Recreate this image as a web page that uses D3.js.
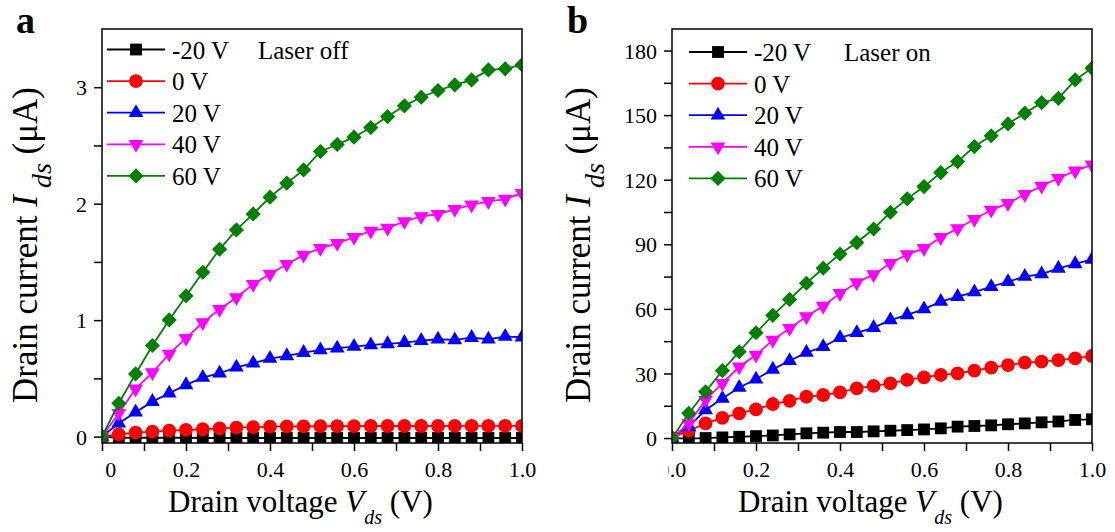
<!DOCTYPE html>
<html><head><meta charset="utf-8">
<script src="https://cdn.jsdelivr.net/npm/d3@7"></script>
<style>
body{margin:0;background:#fff}
svg{display:block}
text{font-family:"Liberation Serif","Times New Roman",serif;fill:#000}
</style>
</head><body>
<svg id="chart" width="1115" height="532"></svg>
<script>
// Drain voltage values (V)
const vds = [0,0.04,0.08,0.12,0.16,0.2,0.24,0.28,0.32,0.36,0.4,0.44,0.48,0.52,0.56,0.6,0.64,0.68,0.72,0.76,0.8,0.84,0.88,0.92,0.96,1.0];
const gateLabels = ["-20 V","0 V","20 V","40 V","60 V"];
const seriesColors = ["#000000","#ff0000","#0000ff","#ff00ff","#008000"];

// Panel a: laser off, drain current (uA)
const offM20 = [0,-0.01,-0.01,-0.01,-0.01,-0.01,-0.012,-0.012,-0.012,-0.012,-0.012,-0.012,-0.012,-0.012,-0.012,-0.012,-0.012,-0.012,-0.012,-0.012,-0.012,-0.012,-0.012,-0.012,-0.012,-0.012];
const off0   = [0,0.02,0.034,0.043,0.052,0.057,0.063,0.07,0.077,0.082,0.085,0.087,0.088,0.089,0.09,0.09,0.091,0.091,0.091,0.091,0.091,0.092,0.092,0.092,0.092,0.092];
const off20  = [0,0.115,0.21,0.30,0.372,0.444,0.507,0.544,0.595,0.63,0.67,0.693,0.721,0.744,0.759,0.773,0.787,0.796,0.807,0.824,0.836,0.83,0.85,0.836,0.859,0.853];
const off40  = [0,0.2,0.41,0.55,0.71,0.845,0.98,1.094,1.194,1.308,1.397,1.48,1.56,1.617,1.66,1.712,1.766,1.79,1.847,1.89,1.91,1.952,1.99,2.02,2.04,2.09];
const off60  = [0,0.286,0.538,0.782,1.002,1.208,1.411,1.609,1.775,1.912,2.056,2.176,2.29,2.448,2.508,2.571,2.654,2.748,2.84,2.914,2.972,3.02,3.063,3.149,3.158,3.192];

// Panel b: laser on, drain current (uA)
const onM20 = [0,-0.3,0,0.3,0.6,0.9,1.2,1.7,2.2,2.5,2.8,2.8,3.1,3.4,3.7,4,4.5,5.3,5.6,5.9,6.4,6.8,7.3,7.7,8.4,8.7];
const on0   = [0,3.4,6.8,9.4,11.5,13.3,15.8,17.3,19.2,20,21.2,23.1,24.2,25.4,27,28.2,29.3,30,31.3,32.7,33.9,35,35.5,36.2,37,38.1];
const on20  = [0,5.3,13,18.4,23.5,27.3,31.9,35.9,39.7,42.4,46.6,48.9,51.3,54.8,57.2,59.9,63.4,65.7,67.8,70.3,72.6,75,76.2,78.8,80.9,83];
const on40  = [0,6.8,17.7,25.4,33.1,38.6,45.5,51,56.4,61.3,67.2,72.2,76,81.2,85.3,88.1,93.2,97.3,101.6,105.9,109,113.2,117.1,120.7,124.1,126.9];
const on60  = [0,11.5,21.5,31.3,40.1,48.9,57,64.4,71.9,78.9,85.5,90.8,97.1,104.9,111.1,116.8,123.3,128.4,135.4,140.4,145.9,150.9,155.8,157.8,166.4,171.8];

// Tick values
const xMajorTicks = [0,0.2,0.4,0.6,0.8,1.0];
const xTickLabels = ["0.0","0.2","0.4","0.6","0.8","1.0"];
const xMinorTicks = [0.1,0.3,0.5,0.7,0.9];
const yMajorA = [0,1,2,3];
const yMinorA = [0.5,1.5,2.5];
const yMajorB = [0,30,60,90,120,150,180];
const yMinorB = [15,45,75,105,135,165];

const svg = d3.select("#chart");
const defs = svg.append("defs");
const symbols = [
  {type:d3.symbolSquare, size:140, rot:0},
  {type:d3.symbolCircle, size:150, rot:0},
  {type:d3.symbolTriangle, size:95, rot:0},
  {type:d3.symbolTriangle, size:95, rot:180},
  {type:d3.symbolSquare, size:115, rot:45}
];

function drawPanel(cfg){
  const g = svg.append("g");
  const x = d3.scaleLinear().domain([0,1]).range([cfg.left, cfg.right]);
  const y = d3.scaleLinear().domain(cfg.yDomain).range([cfg.bottom, cfg.top]);
  const clipId = "clip"+cfg.id;
  defs.append("clipPath").attr("id",clipId)
    .append("rect").attr("x",cfg.left).attr("y",cfg.top)
    .attr("width",cfg.right-cfg.left).attr("height",cfg.bottom-cfg.top);
  // first x label is partly hidden in the original figure
  const lblClip = "lclip"+cfg.id;
  defs.append("clipPath").attr("id",lblClip)
    .append("rect").attr("x",cfg.xLabelClip - cfg.left).attr("y",0)
    .attr("width",60).attr("height",60);

  // axes
  const xAx = g.append("g").attr("transform",`translate(0,${cfg.bottom})`)
    .call(d3.axisBottom(x).tickValues(xMajorTicks).tickSize(8).tickFormat((d,i)=>xTickLabels[i]));
  g.append("g").attr("transform",`translate(0,${cfg.bottom})`)
    .call(d3.axisBottom(x).tickValues(xMinorTicks).tickSize(8).tickFormat(""));
  const yAx = g.append("g").attr("transform",`translate(${cfg.left},0)`)
    .call(d3.axisLeft(y).tickValues(cfg.yMajor).tickSize(8).tickPadding(7).tickFormat(d3.format("d")));
  g.append("g").attr("transform",`translate(${cfg.left},0)`)
    .call(d3.axisLeft(y).tickValues(cfg.yMinor).tickSize(8).tickFormat(""));
  g.selectAll(".domain").remove();
  g.selectAll(".tick line").attr("stroke","#000").attr("stroke-width",1.5);
  xAx.selectAll("text").attr("font-size",22).attr("y",34).attr("dy",0)
    .attr("font-family","Liberation Serif, Times New Roman, serif");
  xAx.selectAll("text").filter((d,i)=>i===0).attr("clip-path",`url(#${lblClip})`);
  yAx.selectAll("text").attr("font-size",22).attr("dy","0.35em")
    .attr("font-family","Liberation Serif, Times New Roman, serif");

  // data
  const plot = g.append("g").attr("clip-path",`url(#${clipId})`);
  const line = d3.line().x((d,i)=>x(vds[i])).y(d=>y(d));
  cfg.series.forEach((vals,k)=>{
    plot.append("path").datum(vals).attr("d",line).attr("fill","none")
      .attr("stroke",seriesColors[k]).attr("stroke-width",1.8);
    const sym = d3.symbol().type(symbols[k].type).size(symbols[k].size);
    plot.selectAll(null).data(vals).enter().append("path")
      .attr("d",sym)
      .attr("transform",(d,i)=>`translate(${x(vds[i])},${y(d)}) rotate(${symbols[k].rot})`)
      .attr("fill",seriesColors[k]);
  });

  // frame
  g.append("rect").attr("x",cfg.left).attr("y",cfg.top)
    .attr("width",cfg.right-cfg.left).attr("height",cfg.bottom-cfg.top)
    .attr("fill","none").attr("stroke","#000").attr("stroke-width",1.5);

  // legend
  gateLabels.forEach((lab,k)=>{
    const yy = cfg.legY + k*31.6;
    g.append("line").attr("x1",cfg.legX).attr("x2",cfg.legX+58)
      .attr("y1",yy).attr("y2",yy).attr("stroke",seriesColors[k]).attr("stroke-width",1.8);
    const sym = d3.symbol().type(symbols[k].type).size(symbols[k].size);
    g.append("path").attr("d",sym)
      .attr("transform",`translate(${cfg.legX+29},${yy}) rotate(${symbols[k].rot})`)
      .attr("fill",seriesColors[k]);
    g.append("text").attr("x",cfg.legX+65).attr("y",yy+9).attr("font-size",25).text(lab);
  });
  g.append("text").attr("x",cfg.noteX).attr("y",cfg.legY+9).attr("font-size",25).text(cfg.note);

  // x title
  const xt = g.append("text").attr("x",cfg.left+66).attr("y",512).attr("font-size",31);
  xt.append("tspan").text("Drain voltage ");
  xt.append("tspan").attr("font-style","italic").text("V");
  xt.append("tspan").attr("font-style","italic").attr("font-size",20).attr("dy",12).text("ds");
  xt.append("tspan").attr("dy",-12).text(" (V)");

  // y title
  const yt = g.append("text").attr("transform",`translate(${cfg.yTitleX},${cfg.yTitleY}) rotate(-90)`)
    .attr("text-anchor","middle").attr("font-size",35);
  yt.append("tspan").text("Drain current ");
  yt.append("tspan").attr("font-style","italic").text("I");
  yt.append("tspan").attr("font-style","italic").attr("font-size",28).attr("dy",14).text(" ds");
  yt.append("tspan").attr("dy",-14).text(" (μA)");

  // panel letter
  g.append("text").attr("x",cfg.letterX).attr("y",33).attr("font-size",38)
    .attr("font-weight","bold").text(cfg.letter);
}

drawPanel({id:"a", left:102, right:522, top:29, bottom:443, yDomain:[-0.055,3.5],
  yMajor:yMajorA, yMinor:yMinorA, series:[offM20,off0,off20,off40,off60],
  legX:107, legY:49.5, noteX:258, note:"Laser off", xLabelClip:104,
  yTitleX:37, yTitleY:245, letter:"a", letterX:16});
drawPanel({id:"b", left:672, right:1092, top:29, bottom:443, yDomain:[-2.3,190],
  yMajor:yMajorB, yMinor:yMinorB, series:[onM20,on0,on20,on40,on60],
  legX:689, legY:52, noteX:844, note:"Laser on", xLabelClip:668,
  yTitleX:590, yTitleY:245, letter:"b", letterX:567});
</script>
</body></html>
